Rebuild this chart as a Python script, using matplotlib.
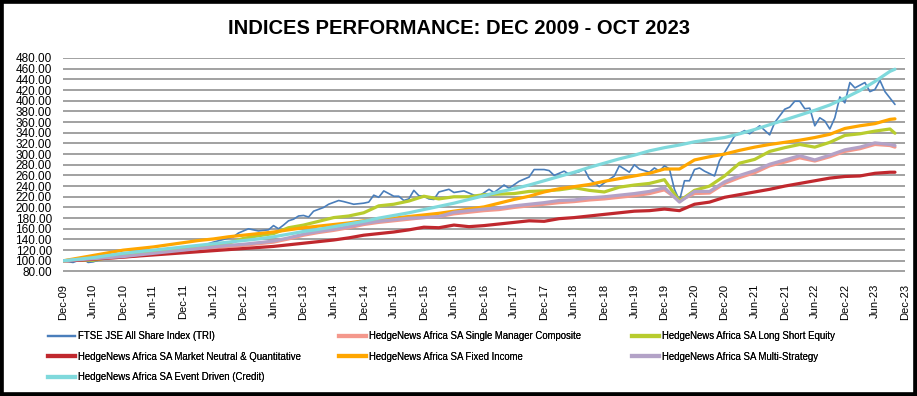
import matplotlib.pyplot as plt
from matplotlib.patches import Rectangle
from matplotlib.lines import Line2D

# months counted from Dec-09 (0) ; hedge fund indices read quarterly, plus Oct-23
months_q = list(range(0, 166, 3)) + [166]

fixed_income = [100, 105, 110, 115, 120, 123, 126, 130, 134, 138, 141, 145, 148, 151, 154,
                158, 162, 165, 168, 171, 175, 178, 180, 183, 186, 189, 193, 197, 201, 208,
                215, 221, 229, 235, 239, 243, 249, 254, 259, 264, 272, 272, 289, 295, 300,
                307, 313, 318, 322, 326, 331, 337, 348, 353, 357, 365, 366]
event_driven = [100, 103, 106, 110, 114, 117, 120, 123, 126, 129, 132, 135, 138, 141, 145,
                150, 155, 159, 164, 169, 174, 180, 185, 190, 196, 202, 208, 215, 222, 229,
                235, 242, 250, 258, 266, 275, 283, 291, 298, 306, 312, 317, 323, 327, 331,
                338, 346, 355, 364, 373, 382, 392, 405, 419, 436, 455, 459]
long_short = [100, 102, 101, 106, 110, 113, 116, 119, 123, 126, 129, 133, 142, 147, 151,
              162, 167, 174, 181, 184, 190, 203, 206, 212, 221, 216, 220, 220, 224, 225,
              226, 230, 231, 233, 237, 232, 229, 238, 242, 245, 252, 212, 232, 240, 259,
              283, 290, 305, 312, 318, 313, 322, 335, 338, 343, 347, 339]
multi_strategy = [100, 102, 104, 106, 108, 111, 114, 117, 120, 123, 126, 129, 131, 134, 137,
                  143, 150, 155, 159, 164, 170, 174, 177, 180, 181, 183, 191, 194, 197, 199,
                  203, 206, 209, 213, 214, 218, 220, 223, 226, 230, 237, 210, 230, 230, 248,
                  260, 269, 281, 289, 297, 289, 298, 308, 313, 321, 318, 316]
single_manager = [100, 101, 103, 105, 107, 110, 113, 116, 119, 121, 124, 127, 129, 132, 135,
                  141, 148, 153, 157, 162, 168, 172, 175, 178, 181, 183, 188, 191, 194, 196,
                  200, 203, 206, 209, 211, 214, 216, 219, 222, 226, 233, 213, 226, 227, 245,
                  256, 265, 278, 285, 293, 287, 295, 305, 310, 318, 316, 313]
market_neutral = [100, 101, 103, 105, 107, 109, 111, 113, 115, 117, 119, 121, 123, 125, 127,
                  130, 133, 136, 139, 143, 148, 151, 154, 158, 163, 162, 167, 164, 166, 169,
                  172, 175, 174, 179, 181, 184, 187, 190, 193, 194, 197, 194, 206, 210, 219,
                  224, 229, 234, 240, 245, 250, 255, 258, 259, 264, 266, 266]

# FTSE JSE read at irregular months (more wiggle)
ftse_months = [0, 2, 4, 5, 6, 8, 10, 12, 14, 16, 18, 20, 22, 24, 26, 28, 30, 32, 34, 35,
               37, 39, 41, 42, 43, 44, 45, 46, 47, 48, 49, 50, 52, 53, 55, 56, 58, 60, 61, 62,
               63, 64, 65, 66, 67, 68, 69, 70, 71, 72, 73, 74, 75, 77, 78, 80, 82, 83, 85, 86,
               88, 89, 91, 93, 94, 96, 97, 98, 100, 101, 103, 104, 105, 107, 108, 110, 111, 113,
               114, 115, 117, 118, 119, 120, 121, 122, 123, 124, 125, 126, 127, 128, 130, 131,
               132, 134, 136, 137, 139, 141, 142, 144, 145, 146, 147, 148, 149, 150, 151, 152,
               153, 154, 155, 156, 157, 158, 160, 161, 162, 163, 164, 166]
ftse = [100, 97, 104, 97, 98, 104, 110, 114, 116, 115, 116, 114, 118, 121, 127, 129, 135, 140,
        145, 152, 160, 156, 158, 166, 160, 167, 175, 178, 184, 185, 182, 193, 200, 206, 213,
        211, 206, 208, 210, 223, 219, 231, 226, 221, 221, 213, 216, 232, 222, 221, 216, 215,
        229, 234, 228, 231, 223, 221, 234, 228, 242, 236, 249, 257, 271, 271, 269, 260, 268,
        262, 267, 272, 254, 239, 246, 259, 278, 266, 280, 272, 266, 274, 268, 278, 272, 234,
        213, 250, 250, 271, 274, 268, 259, 288, 303, 334, 344, 338, 353, 336, 359, 384, 388,
        399, 399, 385, 386, 353, 368, 362, 347, 368, 407, 396, 434, 424, 434, 417, 421, 438,
        417, 393]

tick_months = list(range(0, 169, 6))
tick_labels = ["Dec-09", "Jun-10", "Dec-10", "Jun-11", "Dec-11", "Jun-12", "Dec-12", "Jun-13",
               "Dec-13", "Jun-14", "Dec-14", "Jun-15", "Dec-15", "Jun-16", "Dec-16", "Jun-17",
               "Dec-17", "Jun-18", "Dec-18", "Jun-19", "Dec-19", "Jun-20", "Dec-20", "Jun-21",
               "Dec-21", "Jun-22", "Dec-22", "Jun-23", "Dec-23"]

names = ["FTSE JSE All Share Index (TRI)",
         "HedgeNews Africa SA Single Manager Composite",
         "HedgeNews Africa SA Long Short Equity",
         "HedgeNews Africa SA Market Neutral & Quantitative",
         "HedgeNews Africa SA Fixed Income",
         "HedgeNews Africa SA Multi-Strategy",
         "HedgeNews Africa SA Event Driven (Credit)"]
colors = ["#4A7EBB", "#F4988C", "#B8CC2E", "#C0282E", "#FFA600", "#B3A2C7", "#7FD9DC"]

regular = ["Liberation Sans", "DejaVu Sans"]

fig = plt.figure(figsize=(9.17, 3.96), dpi=100)
ax = fig.add_axes([63 / 917, 1 - 271.5 / 396, (905 - 63) / 917, (271.5 - 58) / 396])

series = [(ftse_months, ftse), (months_q, single_manager), (months_q, long_short),
          (months_q, market_neutral), (months_q, fixed_income), (months_q, multi_strategy),
          (months_q, event_driven)]
for i, (xs, ys) in enumerate(series):
    lw = 1.2 if i == 0 else 2.3
    ax.plot(xs, ys, color=colors[i], lw=lw, label=names[i], solid_capstyle="round")

ax.set_xlim(0, 168)
ax.set_ylim(80, 480)
ax.set_yticks(range(80, 481, 20))
ax.set_yticklabels([f"{v:.2f}" for v in range(80, 481, 20)], family=regular, fontsize=8.5)
ax.set_xticks(tick_months)
ax.set_xticklabels(tick_labels, rotation=90, family=regular, fontsize=8)
ax.tick_params(axis="y", length=0, pad=8)
ax.tick_params(axis="x", length=0, pad=9)
ax.grid(axis="y", color="#9A9A9A", lw=1.3)
ax.set_axisbelow(True)
for s in ax.spines.values():
    s.set_visible(False)

fig.text(0.5, 1 - 29 / 396, "INDICES PERFORMANCE: DEC 2009 - OCT 2023", ha="center",
         va="center", fontsize=14.5, fontweight="bold", family=regular)

# legend in three fixed-width columns like Excel
cols = [[0, 3, 6], [1, 4], [2, 5]]
col_x = [48, 339, 632]
for c, idx in enumerate(cols):
    hs = [Line2D([], [], color=colors[k], lw=1.6 if k == 0 else 3.0) for k in idx]
    lg = fig.legend(hs, [names[k] for k in idx], loc="upper left",
                    bbox_to_anchor=(col_x[c] / 917, 1 - 331 / 396), frameon=False,
                    prop={"family": regular, "size": 6.9}, handlelength=2.8,
                    handletextpad=0.3, borderpad=0, borderaxespad=0, labelspacing=1.12)
    fig.add_artist(lg)

fig.patches.append(Rectangle((0, 0), 1, 1, transform=fig.transFigure, fill=False,
                             edgecolor="black", lw=5.5, clip_on=False))

fig.savefig("out.png", dpi=100)
